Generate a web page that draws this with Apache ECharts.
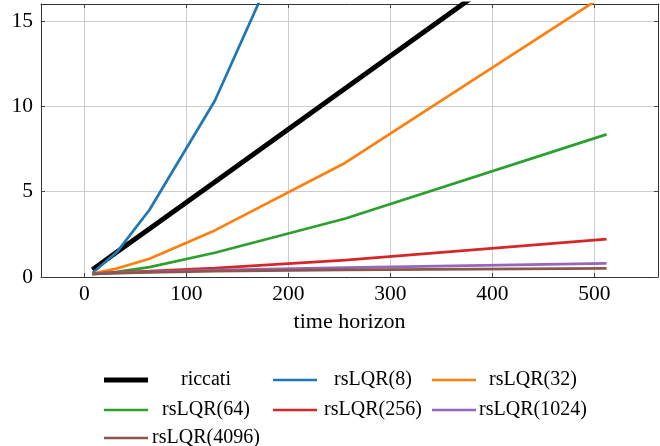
<!DOCTYPE html>
<html>
<head>
<meta charset="utf-8">
<script src="https://cdn.jsdelivr.net/npm/echarts@6/dist/echarts.min.js"></script>
<style>
  html, body { margin: 0; padding: 0; background: #fff; }
  #chart { width: 660px; height: 446px; }
</style>
</head>
<body>
<div id="chart"></div>
<script>
var horizons = [8, 32, 64, 128, 256, 512]
var riccati = [0.43, 1.46, 2.83, 5.57, 11.06, 22.04]
var rsLQR8 = [0.23, 1.46, 3.94, 10.33, 27.4, 62]
var rsLQR32 = [0.2, 0.5, 1.07, 2.73, 6.7, 16.6]
var rsLQR64 = [0.15, 0.3, 0.58, 1.42, 3.43, 8.36]
var rsLQR256 = [0.2, 0.27, 0.35, 0.52, 0.99, 2.22]
var rsLQR1024 = [0.2, 0.24, 0.3, 0.4, 0.55, 0.8]
var rsLQR4096 = [0.18, 0.22, 0.27, 0.34, 0.42, 0.51]

var xTicks = [0, 100, 200, 300, 400, 500]
var yTicks = [0, 5, 10, 15]

var font = '"Liberation Serif", "DejaVu Serif", serif'

var lines = [
    { name: 'riccati', values: riccati, color: '#000000', width: 5 },
    { name: 'rsLQR(8)', values: rsLQR8, color: '#1f77b4', width: 2.7 },
    { name: 'rsLQR(32)', values: rsLQR32, color: '#ff7f0e', width: 2.7 },
    { name: 'rsLQR(64)', values: rsLQR64, color: '#2ca02c', width: 2.7 },
    { name: 'rsLQR(256)', values: rsLQR256, color: '#d62728', width: 2.7 },
    { name: 'rsLQR(1024)', values: rsLQR1024, color: '#9467bd', width: 2.7 },
    { name: 'rsLQR(4096)', values: rsLQR4096, color: '#8c564b', width: 2.7 }
]

// legend cells: icon left, row center, text cell width
var cells = [
    [99, 376, 106], [268, 376, 102], [427, 376, 104],
    [99, 406, 106], [268, 406, 102], [427, 406, 104],
    [99, 434, 106]
]

var series = lines.map(function (l) {
    return {
        name: l.name,
        type: 'line',
        symbol: 'none',
        data: horizons.map(function (h, i) { return [h, l.values[i]] }),
        lineStyle: { color: l.color, width: l.width },
        itemStyle: { color: l.color },
        animation: false
    }
})

var legends = lines.map(function (l, i) {
    var c = cells[i]
    return {
        data: [{ name: l.name, icon: 'rect' }],
        left: c[0],
        top: c[1] - 11,
        itemWidth: 44,
        itemHeight: l.width,
        itemGap: 0,
        textStyle: {
            fontFamily: font,
            fontSize: 20,
            color: '#000',
            rich: {
                t: { width: c[2], align: 'center', fontFamily: font, fontSize: 20, lineHeight: 22, color: '#000' }
            }
        },
        formatter: function (name) { return '{t|' + name + '}' }
    }
})

var axisLine = { show: true, onZero: false, lineStyle: { color: '#333', width: 1 } }
var tick = { show: true, inside: true, length: 4, lineStyle: { color: '#444' } }

var option = {
    backgroundColor: '#fff',
    grid: { left: 41, top: 4, right: 2, bottom: 169 },
    legend: legends,
    xAxis: [
        {
            type: 'value',
            min: -42.4,
            max: 562.4,
            axisLine: axisLine,
            axisTick: Object.assign({ customValues: xTicks }, tick),
            axisLabel: { customValues: xTicks, fontFamily: font, fontSize: 21.5, color: '#000', margin: 6 },
            splitLine: { show: true, lineStyle: { color: '#cccccc', width: 1 } },
            name: 'time horizon',
            nameLocation: 'middle',
            nameGap: 34,
            nameTextStyle: { fontFamily: font, fontSize: 22, color: '#000' }
        },
        {
            type: 'value',
            position: 'top',
            min: -42.4,
            max: 562.4,
            axisLine: axisLine,
            axisTick: Object.assign({ customValues: xTicks }, tick),
            axisLabel: { show: false },
            splitLine: { show: false }
        }
    ],
    yAxis: [
        {
            type: 'value',
            min: 0,
            max: 16,
            axisLine: axisLine,
            axisTick: Object.assign({ customValues: yTicks }, tick),
            axisLabel: { customValues: yTicks, fontFamily: font, fontSize: 21.5, color: '#000', margin: 8 },
            splitLine: { show: true, lineStyle: { color: '#cccccc', width: 1 } }
        },
        {
            type: 'value',
            position: 'right',
            min: 0,
            max: 16,
            axisLine: axisLine,
            axisTick: Object.assign({ customValues: yTicks }, tick),
            axisLabel: { show: false },
            splitLine: { show: false }
        }
    ],
    series: series
}

var myChart = echarts.init(document.getElementById('chart'))
myChart.setOption(option)
</script>
</body>
</html>
